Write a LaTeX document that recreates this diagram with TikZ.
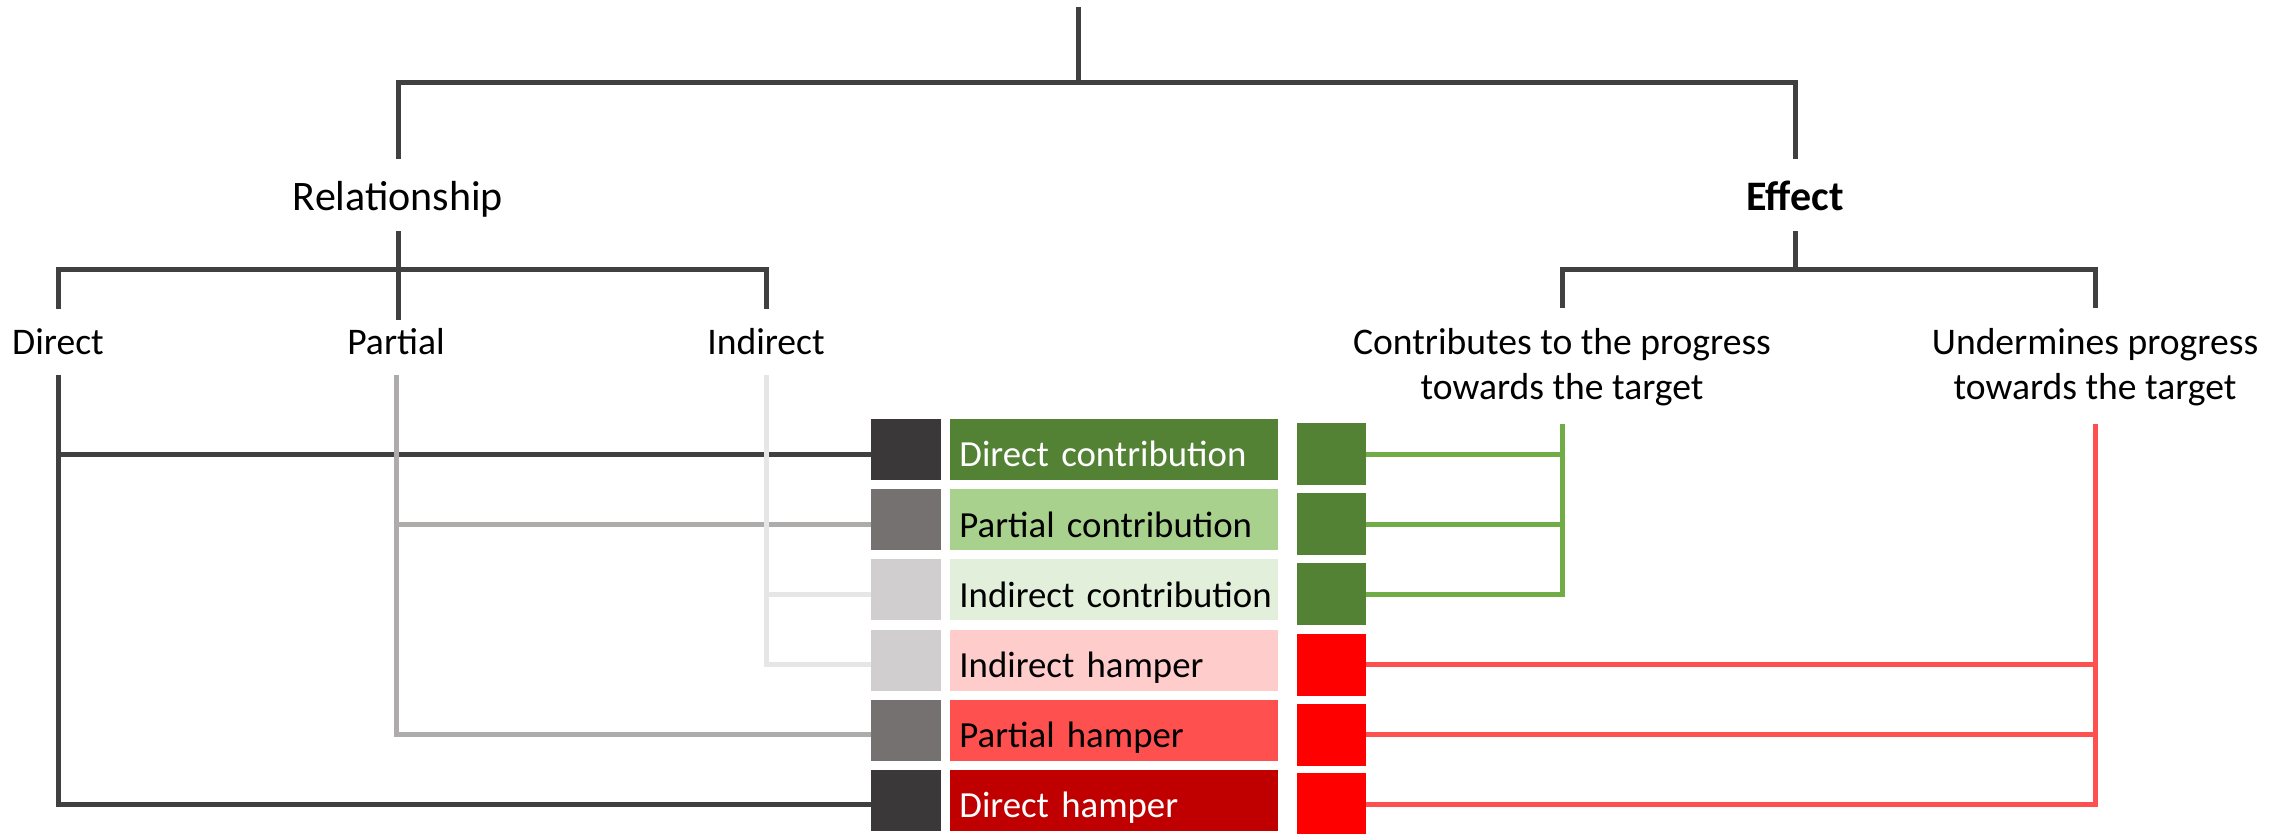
\documentclass[tikz,border=0pt]{standalone}
\usepackage{fontspec}
\setmainfont{Carlito}
\definecolor{lnDark}{HTML}{404040}
\definecolor{lnMid}{HTML}{AEABAB}
\definecolor{lnLight}{HTML}{E7E6E6}
\definecolor{sqDark}{HTML}{3A3838}
\definecolor{sqMid}{HTML}{767171}
\definecolor{sqLight}{HTML}{D0CECE}
\definecolor{gDark}{HTML}{548235}
\definecolor{gMid}{HTML}{A9D18E}
\definecolor{gLight}{HTML}{E2EFDA}
\definecolor{gLine}{HTML}{70AD47}
\definecolor{rLight}{HTML}{FFCCCC}
\definecolor{rMid}{HTML}{FF5050}
\definecolor{rDark}{HTML}{C00000}
\definecolor{rSq}{HTML}{FF0000}
\definecolor{rLine}{HTML}{FF5050}
\begin{document}
\begin{tikzpicture}[x=0.5pt,y=-0.5pt,
  conn/.style={line width=2.5pt},
  dk/.style={conn,draw=lnDark},
  md/.style={conn,draw=lnMid},
  lt/.style={conn,draw=lnLight},
  gl/.style={conn,draw=gLine},
  rl/.style={conn,draw=rLine},
  head/.style={font=\fontsize{21}{25}\selectfont, inner sep=0pt, minimum height=36pt, text height=16pt, text depth=0pt},
  sub/.style={font=\fontsize{18.8}{22.6}\selectfont, inner sep=0pt, minimum height=33pt},
  two/.style={font=\fontsize{18.8}{22.6}\selectfont, inner sep=0pt, minimum height=56.5pt, align=center},
  gsq/.style={minimum width=35pt, minimum height=30.5pt, inner sep=0pt},
  csq/.style={minimum width=34.5pt, minimum height=31pt, inner sep=0pt},
  lab/.style={font=\fontsize{18.4}{22}\selectfont, anchor=west, text width=155pt, inner xsep=4.5pt, inner ysep=0pt, minimum height=30.5pt, align=left, text height=17.4pt, text depth=0pt}
]
\useasboundingbox (0,0) rectangle (2290,834);

% header nodes
\coordinate (top) at (1078,7);
\node[head] (rel) at (398,195) {Relationship};
\node[head,font=\fontsize{21}{25}\selectfont\bfseries] (eff) at (1795,195) {Effect};
\node[sub] (dir) at (58,342) {Direct};
\node[sub] (part) at (396,342) {Partial};
\node[sub] (ind) at (766,342) {Indirect};
\node[two] (con) at (1562,367) {Contributes to the progress\\towards the target};
\node[two] (und) at (2095,367) {Undermines progress\\towards the target};

% gray squares
\node[gsq,fill=sqDark]  (g1) at (906,449.5) {};
\node[gsq,fill=sqMid]   (g2) at (906,519.7) {};
\node[gsq,fill=sqLight] (g3) at (906,589.9) {};
\node[gsq,fill=sqLight] (g4) at (906,660.1) {};
\node[gsq,fill=sqMid]   (g5) at (906,730.3) {};
\node[gsq,fill=sqDark]  (g6) at (906,800.5) {};

% labels
\node[lab,fill=gDark,text=white] (l1) at (950,449.5) {\mbox{Direct contribution}};
\node[lab,fill=gMid]   (l2) at (950,519.7) {\mbox{Partial contribution}};
\node[lab,fill=gLight] (l3) at (950,589.9) {\mbox{Indirect contribution}};
\node[lab,fill=rLight] (l4) at (950,660.1) {\mbox{Indirect hamper}};
\node[lab,fill=rMid]   (l5) at (950,730.3) {\mbox{Partial hamper}};
\node[lab,fill=rDark,text=white] (l6) at (950,800.5) {\mbox{Direct hamper}};

% colored squares
\node[csq,fill=gDark] (c1) at (1331.5,454) {};
\node[csq,fill=gDark] (c2) at (1331.5,524.2) {};
\node[csq,fill=gDark] (c3) at (1331.5,594.4) {};
\node[csq,fill=rSq]   (c4) at (1331.5,664.6) {};
\node[csq,fill=rSq]   (c5) at (1331.5,734.8) {};
\node[csq,fill=rSq]   (c6) at (1331.5,804) {};

% tree connectors
\draw[dk] (top) -- ++(0,76);
\draw[dk] (rel.north) -- ++(0,-76) -| (eff.north);
\draw[dk] (rel.south) -- ([yshift=-5.5pt]rel.south |- part.north);
\draw[dk] (dir.north) -- ++(0,-39) -| (ind.north);
\draw[dk] (eff.south) -- ++(0,39);
\draw[dk] ([yshift=1.2pt]con.north) -- ++(0,-38) -| ([yshift=1.2pt]und.north);

% relationship connectors
\draw[dk] (dir.south) |- (g6.west |- c6);
\draw[dk] (dir.south |- c1) -- (g1.west |- c1);
\draw[md] (part.south) |- (g5.west |- c5);
\draw[md] (part.south |- c2) -- (g2.west |- c2);
\draw[lt] (ind.south) |- (g4.west |- c4);
\draw[lt] (ind.south |- c3) -- (g3.west |- c3);

% effect connectors
\draw[gl] (con.south) |- (c3.east);
\draw[gl] (c1.east) -- (c1.east -| con.south);
\draw[gl] (c2.east) -- (c2.east -| con.south);
\draw[rl] (und.south) |- (c6.east);
\draw[rl] (c4.east) -- (c4.east -| und.south);
\draw[rl] (c5.east) -- (c5.east -| und.south);
\end{tikzpicture}
\end{document}
